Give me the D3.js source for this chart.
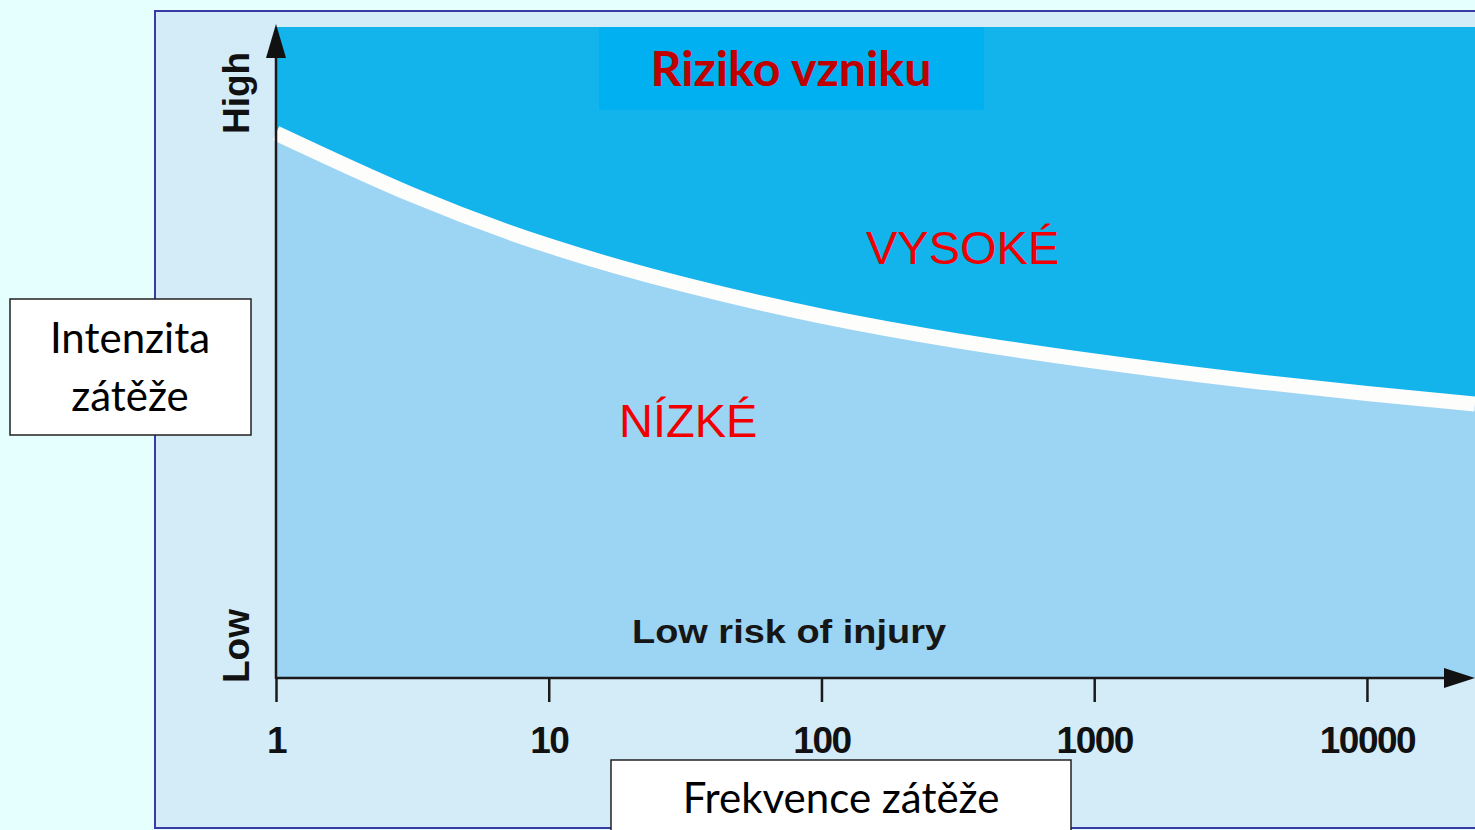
<!DOCTYPE html>
<html>
<head>
<meta charset="utf-8">
<script src="https://cdn.jsdelivr.net/npm/d3@7"></script>
<style>
  html, body { margin: 0; padding: 0; background: #e5fefe; }
  svg { display: block; }
</style>
</head>
<body>
<svg id="chart"></svg>
<script>
// frequency of load (log scale) and the intensity where the risk changes
var frequency = [1, 3.16, 10, 31.6, 100, 316, 1000, 3162, 10000, 24900];
var threshold = [0.837, 0.742, 0.664, 0.604, 0.556, 0.518, 0.487, 0.46, 0.437, 0.421];
var tickValues = [1, 10, 100, 1000, 10000];
var tickLabels = ['1', '10', '100', '1000', '10000'];

var width = 1475, height = 830;

var svg = d3.select('#chart')
	.attr('width', width)
	.attr('height', height);

//panel
svg.append('rect')
	.attr('x', 155).attr('y', 11)
	.attr('width', 1340).attr('height', 817)
	.attr('fill', '#d4ebf8')
	.attr('stroke', '#3a3aa6')
	.attr('stroke-width', 2);

var x = d3.scaleLog().domain([1, 24900]).range([276, 1475]);
var y = d3.scaleLinear().domain([0, 1]).range([678, 27]);

var points = frequency.map(function(d, i) { return [d, threshold[i]]; });
var curve = d3.curveNatural;

//high risk (everything above the curve)
var high = d3.area()
	.x(function(d) { return x(d[0]); })
	.y0(y(1))
	.y1(function(d) { return y(d[1]); })
	.curve(curve);

svg.append('path')
	.attr('d', high(points))
	.attr('fill', '#13b3ec');

//low risk
var low = d3.area()
	.x(function(d) { return x(d[0]); })
	.y0(y(0))
	.y1(function(d) { return y(d[1]); })
	.curve(curve);

svg.append('path')
	.attr('d', low(points))
	.attr('fill', '#9cd4f3');

var line = d3.line()
	.x(function(d) { return x(d[0]); })
	.y(function(d) { return y(d[1]); })
	.curve(curve);

svg.append('path')
	.attr('d', line(points))
	.attr('fill', 'none')
	.attr('stroke', '#fdfdfb')
	.attr('stroke-width', 15);

//title box
svg.append('rect')
	.attr('x', 599).attr('y', 27)
	.attr('width', 385).attr('height', 83)
	.attr('fill', '#00b0f0');
svg.append('text')
	.attr('x', 791).attr('y', 86)
	.attr('text-anchor', 'middle')
	.attr('font-family', 'Lato, sans-serif')
	.attr('font-weight', 'bold')
	.attr('font-size', 47)
	.attr('fill', '#c00000')
	.attr('textLength', 281)
	.attr('lengthAdjust', 'spacingAndGlyphs')
	.text('Riziko vzniku');

//axes
var xAxis = d3.axisBottom(x)
	.tickValues(tickValues)
	.tickFormat(function(d, i) { return tickLabels[i]; })
	.tickSize(24)
	.tickPadding(25);

var gx = svg.append('g')
	.attr('transform', 'translate(0,' + y(0) + ')')
	.call(xAxis);
gx.select('.domain').remove();
gx.selectAll('line').attr('stroke', '#1a1a1a').attr('stroke-width', 2.5);
gx.selectAll('text')
	.attr('font-family', '"Liberation Sans", Arial, sans-serif')
	.attr('font-weight', 'bold')
	.attr('font-size', 37)
	.attr('fill', '#111')
	.attr('letter-spacing', -1.5)
	.attr('dy', '0.71em');

svg.append('line')
	.attr('x1', 276).attr('x2', 1450)
	.attr('y1', y(0)).attr('y2', y(0))
	.attr('stroke', '#1a1a1a').attr('stroke-width', 2.5);
svg.append('path')
	.attr('d', 'M1475,' + y(0) + 'L1444,' + (y(0) - 10) + 'L1444,' + (y(0) + 10) + 'Z')
	.attr('fill', '#111');

svg.append('line')
	.attr('x1', 276).attr('x2', 276)
	.attr('y1', y(0) + 1).attr('y2', 50)
	.attr('stroke', '#1a1a1a').attr('stroke-width', 2.5);
svg.append('path')
	.attr('d', 'M276,24L266,58L286,58Z')
	.attr('fill', '#111');

//axis end labels
function vlabel(txt, cy) {
	svg.append('text')
		.attr('transform', 'translate(249,' + cy + ') rotate(-90)')
		.attr('text-anchor', 'middle')
		.attr('font-family', '"Liberation Sans", Arial, sans-serif')
		.attr('font-weight', 'bold')
		.attr('font-size', 37)
		.attr('fill', '#111')
		.text(txt);
}
vlabel('High', 93);
vlabel('Low', 646);

svg.append('text')
	.attr('x', 632).attr('y', 643)
	.attr('font-family', '"Liberation Sans", Arial, sans-serif')
	.attr('font-weight', 'bold')
	.attr('font-size', 34)
	.attr('fill', '#161616')
	.attr('textLength', 314)
	.attr('lengthAdjust', 'spacingAndGlyphs')
	.text('Low risk of injury');

//region labels
svg.append('text')
	.attr('x', 866).attr('y', 264)
	.attr('font-family', '"Liberation Sans", Arial, sans-serif')
	.attr('font-size', 47)
	.attr('fill', '#f00000')
	.text('VYSOKÉ');
svg.append('text')
	.attr('x', 619).attr('y', 437)
	.attr('font-family', '"Liberation Sans", Arial, sans-serif')
	.attr('font-size', 47)
	.attr('fill', '#f00000')
	.text('NÍZKÉ');

//white boxes with the axis names
svg.append('rect')
	.attr('x', 10).attr('y', 299)
	.attr('width', 241).attr('height', 136)
	.attr('fill', '#fff')
	.attr('stroke', '#222').attr('stroke-width', 1.5);
svg.append('text')
	.attr('x', 130).attr('y', 353)
	.attr('text-anchor', 'middle')
	.attr('font-family', 'Lato, sans-serif')
	.attr('font-size', 42)
	.attr('fill', '#000')
	.text('Intenzita');
svg.append('text')
	.attr('x', 130).attr('y', 411)
	.attr('text-anchor', 'middle')
	.attr('font-family', 'Lato, sans-serif')
	.attr('font-size', 42)
	.attr('fill', '#000')
	.text('zátěže');

svg.append('rect')
	.attr('x', 611).attr('y', 760)
	.attr('width', 460).attr('height', 80)
	.attr('fill', '#fff')
	.attr('stroke', '#222').attr('stroke-width', 1.5);
svg.append('text')
	.attr('x', 841).attr('y', 813)
	.attr('text-anchor', 'middle')
	.attr('font-family', 'Lato, sans-serif')
	.attr('font-size', 42)
	.attr('fill', '#000')
	.text('Frekvence zátěže');
</script>
</body>
</html>
